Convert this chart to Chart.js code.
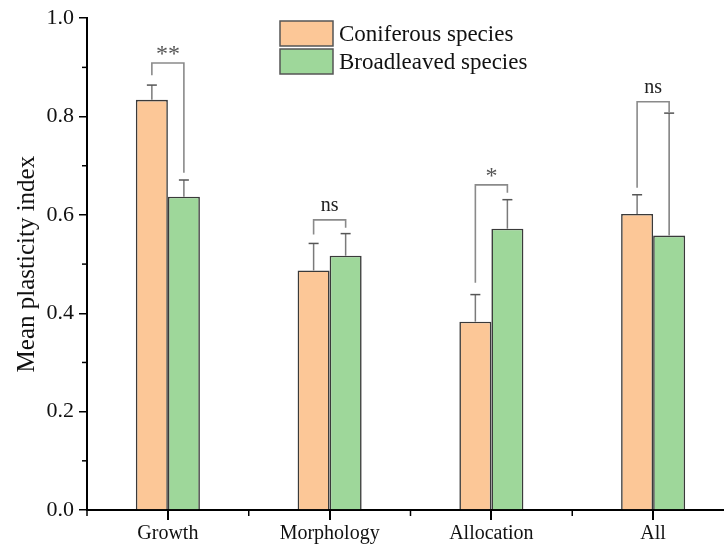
<!DOCTYPE html>
<html>
<head>
<meta charset="utf-8">
<script src="https://cdn.jsdelivr.net/npm/chart.js@4.4.1/dist/chart.umd.min.js"></script>
<style>
  html, body { margin: 0; padding: 0; background: #fff; overflow: hidden; }
  #wrap { width: 740px; height: 546px; }
</style>
</head>
<body>
<div id="wrap"><canvas id="myChart" width="740" height="546"></canvas></div>
<script>
// values
const categories = ['Growth', 'Morphology', 'Allocation', 'All'];
const coniferous = [0.834, 0.487, 0.383, 0.602];
const broadleaved = [0.637, 0.517, 0.572, 0.558];
const coniferousErr = [0.030, 0.055, 0.055, 0.039];
const broadleavedErr = [0.034, 0.045, 0.059, 0.249];

// significance brackets
const sigLabels = ['**', 'ns', '*', 'ns'];
const bracketTop = [0.909, 0.590, 0.661, 0.830];
const bracketLeftEnd = [0.884, 0.560, 0.462, 0.655];
const bracketRightEnd = [0.686, 0.574, 0.645, 0.809];

const serif = '"Liberation Serif", "Times New Roman", serif';
Chart.defaults.font.family = serif;
Chart.defaults.color = '#111';

const errorBars = {
  id: 'errorBars',
  afterDatasetsDraw(chart) {
    const ctx = chart.ctx;
    const y = chart.scales.y;
    const errs = [coniferousErr, broadleavedErr];
    ctx.save();
    errs.forEach((err, d) => {
      const meta = chart.getDatasetMeta(d);
      meta.data.forEach((bar, i) => {
        const v = chart.data.datasets[d].data[i];
        const top = y.getPixelForValue(v + err[i]);
        ctx.strokeStyle = '#7a7a7a';
        ctx.lineWidth = 1.5;
        ctx.beginPath();
        ctx.moveTo(bar.x, bar.y);
        ctx.lineTo(bar.x, top);
        ctx.stroke();
        ctx.strokeStyle = '#555';
        ctx.beginPath();
        ctx.moveTo(bar.x - 5, top);
        ctx.lineTo(bar.x + 5, top);
        ctx.stroke();
      });
    });

    // brackets
    const m0 = chart.getDatasetMeta(0), m1 = chart.getDatasetMeta(1);
    categories.forEach((c, i) => {
      const x0 = m0.data[i].x, x1 = m1.data[i].x;
      const yt = y.getPixelForValue(bracketTop[i]);
      ctx.strokeStyle = '#8a8a8a';
      ctx.lineWidth = 1.6;
      ctx.beginPath();
      ctx.moveTo(x0, y.getPixelForValue(bracketLeftEnd[i]));
      ctx.lineTo(x0, yt);
      ctx.lineTo(x1, yt);
      ctx.lineTo(x1, y.getPixelForValue(bracketRightEnd[i]));
      ctx.stroke();
      const star = sigLabels[i].indexOf('*') >= 0;
      ctx.fillStyle = star ? '#555' : '#222';
      ctx.font = (star ? '24px ' : '20px ') + serif;
      ctx.textAlign = 'center';
      ctx.textBaseline = 'alphabetic';
      ctx.fillText(sigLabels[i], (x0 + x1) / 2, yt - (star ? 2 : 9));
    });
    ctx.restore();
  },
  afterDraw(chart) {
    const ctx = chart.ctx;
    const x = chart.scales.x, y = chart.scales.y;
    const area = chart.chartArea;
    ctx.save();
    ctx.strokeStyle = '#000';
    ctx.lineWidth = 1.5;
    // minor y ticks
    for (let v = 0.1; v < 1; v += 0.2) {
      const py = y.getPixelForValue(v);
      ctx.beginPath();
      ctx.moveTo(area.left - 5, py);
      ctx.lineTo(area.left, py);
      ctx.stroke();
    }
    // minor x ticks at category boundaries
    const step = x.getPixelForValue(1) - x.getPixelForValue(0);
    for (let i = 0; i <= categories.length; i++) {
      const px = x.getPixelForValue(0) + (i - 0.5) * step;
      ctx.beginPath();
      ctx.moveTo(px, area.bottom);
      ctx.lineTo(px, area.bottom + 6);
      ctx.stroke();
    }
    // legend
    chart.data.datasets.forEach((ds, d) => {
      const by = 21 + d * 28;
      ctx.fillStyle = ds.backgroundColor;
      ctx.fillRect(280, by, 53, 25);
      ctx.strokeStyle = '#555';
      ctx.lineWidth = 1.5;
      ctx.strokeRect(280, by, 53, 25);
      ctx.fillStyle = '#111';
      ctx.font = '23px ' + serif;
      ctx.textAlign = 'left';
      ctx.textBaseline = 'middle';
      ctx.fillText(ds.label, 339, by + 14);
    });
    ctx.restore();
  }
};

new Chart(document.getElementById('myChart'), {
  type: 'bar',
  data: {
    labels: categories,
    datasets: [{
      label: 'Coniferous species',
      data: coniferous,
      backgroundColor: '#fcc797',
      borderColor: '#3a3a3a',
      borderWidth: 1.6
    }, {
      label: 'Broadleaved species',
      data: broadleaved,
      backgroundColor: '#9ed79a',
      borderColor: '#3a3a3a',
      borderWidth: 1.6
    }]
  },
  options: {
    responsive: false,
    animation: false,
    categoryPercentage: 0.396,
    barPercentage: 1.0,
    layout: { padding: { top: 18, right: 6, left: 0, bottom: 0 } },
    plugins: { legend: { display: false }, tooltip: { enabled: false } },
    scales: {
      x: {
        afterFit: (s) => { s.height = 36; },
        grid: { offset: false, drawOnChartArea: false, tickLength: 10, color: '#000', lineWidth: 2 },
        border: { display: true, color: '#000', width: 2 },
        ticks: { font: { size: 20 }, color: '#111', padding: 2 }
      },
      y: {
        min: 0, max: 1,
        afterFit: (s) => { s.width = 87; },
        grid: { drawOnChartArea: false, tickLength: 8, color: '#000', lineWidth: 1.5 },
        border: { display: true, color: '#000', width: 2 },
        ticks: { stepSize: 0.2, font: { size: 22 }, color: '#111', padding: 5,
                 callback: (v) => Number(v).toFixed(1) },
        title: { display: true, text: 'Mean plasticity index', font: { size: 25 }, color: '#111',
                 padding: { top: 12, bottom: 0 } }
      }
    }
  },
  plugins: [errorBars]
});
</script>
</body>
</html>
